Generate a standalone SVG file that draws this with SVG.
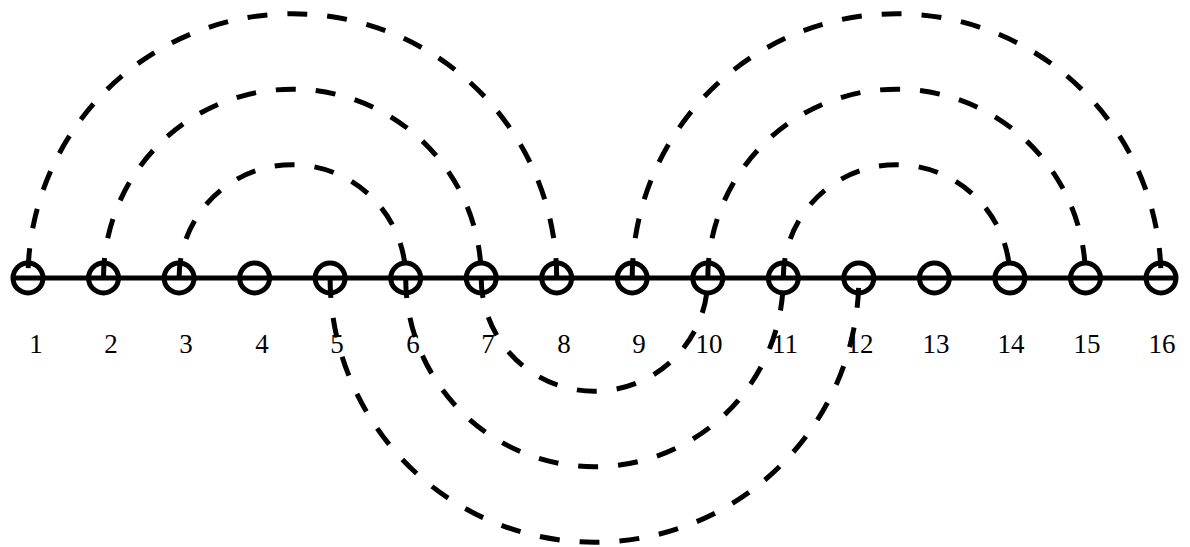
<svg xmlns="http://www.w3.org/2000/svg" width="1190" height="547" viewBox="0 0 1190 547">
<style>
.arc{fill:none;stroke:#000;stroke-width:5;stroke-dasharray:20 20}
.node circle{fill:none;stroke:#000;stroke-width:5}
.lbl{font-family:"Liberation Serif",serif;font-size:27px;fill:#000;text-anchor:middle}
</style>
<rect width="1190" height="547" fill="#fff"/>
<g id="axis"><line x1="12" y1="278" x2="1178" y2="278" stroke="#000" stroke-width="5"/></g>
<g id="connectors">
<path class="arc" d="M556.7 278 A264.35 264.35 0 0 0 28 278"/>
<path class="arc" d="M103.5 278 A188.8 188.8 0 0 1 481.2 278"/>
<path class="arc" d="M179.1 278 A113.3 113.3 0 0 1 405.7 278"/>
<path class="arc" d="M632.2 278 A264.35 264.35 0 0 1 1161 278"/>
<path class="arc" d="M707.8 278 A188.8 188.8 0 0 1 1085.5 278"/>
<path class="arc" d="M783.3 278 A113.3 113.3 0 0 1 1009.9 278"/>
<path class="arc" d="M481.2 278 A113.3 113.3 0 0 0 707.8 278"/>
<path class="arc" d="M405.7 278 A188.8 188.8 0 0 0 783.3 278"/>
<path class="arc" d="M330.1 278 A264.35 264.35 0 0 0 858.8 278"/>
</g>
<g id="n1" class="node"><circle cx="28" cy="278" r="15"/><text class="lbl" x="36" y="353">1</text></g>
<g id="n2" class="node"><circle cx="103.5" cy="278" r="15"/><text class="lbl" x="111" y="353">2</text></g>
<g id="n3" class="node"><circle cx="179.1" cy="278" r="15"/><text class="lbl" x="186" y="353">3</text></g>
<g id="n4" class="node"><circle cx="254.6" cy="278" r="15"/><text class="lbl" x="262" y="353">4</text></g>
<g id="n5" class="node"><circle cx="330.1" cy="278" r="15"/><text class="lbl" x="337" y="353">5</text></g>
<g id="n6" class="node"><circle cx="405.7" cy="278" r="15"/><text class="lbl" x="413" y="353">6</text></g>
<g id="n7" class="node"><circle cx="481.2" cy="278" r="15"/><text class="lbl" x="488" y="353">7</text></g>
<g id="n8" class="node"><circle cx="556.7" cy="278" r="15"/><text class="lbl" x="564" y="353">8</text></g>
<g id="n9" class="node"><circle cx="632.2" cy="278" r="15"/><text class="lbl" x="639" y="353">9</text></g>
<g id="n10" class="node"><circle cx="707.8" cy="278" r="15"/><text class="lbl" x="709" y="353">10</text></g>
<g id="n11" class="node"><circle cx="783.3" cy="278" r="15"/><text class="lbl" x="785" y="353">11</text></g>
<g id="n12" class="node"><circle cx="858.8" cy="278" r="15"/><text class="lbl" x="860" y="353">12</text></g>
<g id="n13" class="node"><circle cx="934.4" cy="278" r="15"/><text class="lbl" x="936" y="353">13</text></g>
<g id="n14" class="node"><circle cx="1009.9" cy="278" r="15"/><text class="lbl" x="1011" y="353">14</text></g>
<g id="n15" class="node"><circle cx="1085.5" cy="278" r="15"/><text class="lbl" x="1087" y="353">15</text></g>
<g id="n16" class="node"><circle cx="1161" cy="278" r="15"/><text class="lbl" x="1162" y="353">16</text></g>
</svg>
